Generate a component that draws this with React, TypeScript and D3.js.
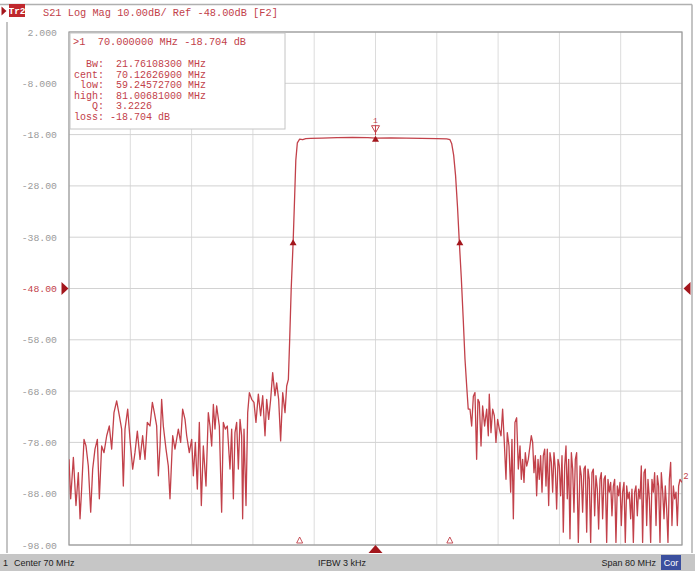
import React from "react";
import * as d3 from "d3";

// ---- data (MHz, dB) ----
const noiseLowMHz = [30.00,30.22,30.57,30.91,31.22,31.44,31.65,31.96,32.22,32.52,32.83,33.09,33.39,33.70,33.96,34.26,34.57,34.92,35.26,35.57,35.87,36.22,36.57,36.87,37.09,37.31,37.66,37.96,38.31,38.61,38.92,39.27,39.61,39.92,40.22,40.57,40.88,41.14,41.44,41.66,41.88,42.09,42.31,42.66,42.96,43.18,43.53,43.83,44.27,44.57,44.83,45.14,45.36,45.70,46.01,46.23,46.49,46.75,47.01,47.27,47.53,47.88,48.18,48.40,48.62,48.84,49.05,49.27,49.62,49.92,50.14,50.40,50.66,51.01,51.23,51.45,51.66,51.88,52.10,52.32,52.53,52.66,52.84,53.10,53.32,53.54,53.84,54.14,54.40,54.71,55.01,55.28,55.58,55.80,56.06,56.32,56.58,56.88,57.10,57.36,57.62,57.89,58.19,58.41,58.63];
const noiseLowDb = [-81.3,-89.0,-80.9,-90.3,-83.9,-92.9,-87.1,-77.4,-78.7,-82.6,-91.6,-83.2,-79.3,-77.4,-89.0,-78.7,-80.0,-76.7,-74.8,-79.3,-72.2,-69.9,-72.8,-75.4,-86.5,-75.4,-71.5,-77.4,-83.2,-80.0,-75.8,-81.3,-76.7,-81.3,-74.1,-74.8,-70.2,-72.2,-74.8,-84.5,-78.7,-69.6,-74.8,-79.3,-82.6,-89.0,-76.7,-79.3,-75.4,-78.0,-71.5,-73.5,-76.7,-80.0,-77.4,-84.5,-78.0,-87.1,-74.1,-90.3,-78.7,-86.5,-72.2,-74.8,-78.7,-70.6,-75.4,-70.9,-74.8,-91.6,-74.1,-75.4,-74.8,-83.2,-75.4,-89.0,-76.1,-74.1,-83.2,-73.5,-76.7,-92.9,-75.4,-90.3,-72.2,-68.3,-69.6,-70.2,-74.1,-68.6,-72.8,-68.9,-76.7,-69.6,-73.5,-69.6,-64.4,-68.9,-66.4,-69.6,-77.7,-68.3,-72.2,-67.0,-65.7];

const passbandMHz = [58.8,59.0,59.25,59.45,59.6,59.8,60.1,60.5,60.9,61.5,63,65,67,69,70,72,74,76,78,79.3,79.72,79.95,80.2,80.45,80.7,80.94,81.2,81.45,81.68,81.9,82.1];
const passbandDb = [-58,-48,-39,-30,-23,-19.6,-18.9,-19.0,-18.8,-18.75,-18.7,-18.6,-18.55,-18.6,-18.7,-18.65,-18.7,-18.75,-18.8,-18.85,-19.0,-19.8,-22,-26,-32,-39,-46,-54,-61.8,-67,-71.5];

const noiseHighMHz = [82.33,82.55,82.77,82.98,83.20,83.37,83.55,83.77,83.98,84.24,84.51,84.72,84.85,85.07,85.29,85.51,85.72,85.94,86.16,86.38,86.59,86.81,87.03,87.20,87.42,87.64,87.81,87.99,88.20,88.42,88.64,88.86,89.03,89.20,89.38,89.55,89.73,89.94,90.16,90.33,90.51,90.68,90.86,91.03,91.21,91.38,91.55,91.73,91.90,92.08,92.25,92.42,92.60,92.77,92.95,93.12,93.29,93.47,93.64,93.82,93.99,94.16,94.34,94.51,94.69,94.86,95.03,95.21,95.38,95.56,95.73,95.90,96.08,96.25,96.47,96.69,96.86,97.03,97.21,97.38,97.56,97.73,97.90,98.08,98.25,98.43,98.60,98.77,98.95,99.12,99.30,99.47,99.64,99.82,99.99,100.17,100.34,100.51,100.69,100.86,101.04,101.21,101.38,101.56,101.73,101.91,102.08,102.25,102.43,102.60,102.78,102.95,103.12,103.30,103.47,103.65,103.82,103.99,104.17,104.34,104.52,104.69,104.86,105.04,105.21,105.39,105.56,105.74,105.91,106.08,106.26,106.43,106.61,106.78,106.95,107.13,107.30,107.48,107.65,107.82,108.00,108.17,108.35,108.52,108.69,108.87,109.04,109.22,109.39,109.56,109.74,110.00];
const noiseHighDb = [-71.5,-74.8,-69.0,-68.3,-81.3,-69.6,-70.2,-78.7,-70.9,-74.8,-71.5,-76.7,-68.6,-76.1,-71.5,-72.8,-78.0,-73.5,-75.4,-76.7,-71.5,-78.0,-85.2,-76.1,-78.7,-87.7,-77.4,-92.9,-74.1,-73.2,-83.2,-78.7,-85.2,-81.3,-85.8,-80.0,-82.6,-81.3,-78.7,-76.7,-78.0,-83.9,-80.6,-88.4,-81.3,-85.2,-80.6,-87.7,-80.6,-79.3,-86.5,-79.3,-90.3,-80.0,-81.9,-87.7,-80.0,-83.2,-91.0,-81.3,-82.6,-88.4,-80.6,-95.5,-82.6,-78.7,-89.0,-81.3,-96.8,-80.0,-83.2,-91.6,-81.3,-80.0,-97.5,-82.6,-84.5,-91.6,-83.2,-82.6,-95.5,-83.2,-85.2,-97.5,-83.9,-83.2,-92.3,-84.5,-87.1,-94.9,-85.2,-83.9,-92.9,-85.2,-84.5,-97.5,-85.2,-87.7,-85.8,-92.3,-86.5,-85.2,-97.5,-86.5,-88.4,-85.8,-94.2,-87.7,-85.8,-97.5,-86.5,-89.0,-87.7,-92.9,-87.1,-97.5,-87.7,-86.5,-92.3,-87.1,-89.0,-82.6,-97.5,-83.9,-83.2,-94.2,-85.2,-89.0,-97.5,-85.2,-87.7,-83.9,-94.2,-84.5,-86.5,-97.5,-83.9,-87.7,-92.9,-86.5,-91.0,-97.5,-85.2,-81.9,-94.2,-86.5,-89.0,-87.7,-94.2,-86.5,-85.2,-85.8];

const yTickValues = [2, -8, -18, -28, -38, -48, -58, -68, -78, -88, -98];
const yTickLabels = ["2.000", "-8.000", "-18.00", "-28.00", "-38.00", "-48.00", "-58.00", "-68.00", "-78.00", "-88.00", "-98.00"];
const xGridMHz = [30, 38, 46, 54, 62, 70, 78, 86, 94, 102, 110];
const refLevelDb = -48;

const markerMHz = 70.0;
const markerDb = -18.704;
const bwMarkerMHz = [59.24572700, 81.00681000];
const bwMarkerDb = [-39, -39];
const stimMarkerMHz = [60.1, 79.7];

const headerText = "S21 Log Mag 10.00dB/ Ref -48.00dB [F2]";
const markerLine = ">1  70.000000 MHz -18.704 dB";
const statLabels = ["Bw:", "cent:", "low:", "high:", "Q:", "loss:"];
const statValues = [" 21.76108300 MHz", " 70.12626900 MHz", " 59.24572700 MHz", " 81.00681000 MHz", " 3.2226", "-18.704 dB"];

const RED = "#c2414a";
const DARK = "#a3161c";
const MONO = "'Liberation Mono', 'DejaVu Sans Mono', monospace";
const SANS = "'Liberation Sans', Arial, sans-serif";

export default function App() {
  const x = d3.scaleLinear().domain([30, 110]).range([69, 682]);
  const y = d3.scaleLinear().domain([-98, 2]).range([545, 32]);
  const [x0, x1] = x.range();
  const [yb, yt] = y.range();

  const pts: [number, number][] = [];
  noiseLowMHz.forEach((f, i) => pts.push([f, noiseLowDb[i]]));
  passbandMHz.forEach((f, i) => pts.push([f, passbandDb[i]]));
  noiseHighMHz.forEach((f, i) => pts.push([f, noiseHighDb[i]]));
  const line = d3.line<[number, number]>().x(d => x(d[0])).y(d => y(d[1]));

  const tri = (cx: number, cy: number, w: number, h: number, dir: "up" | "down" | "left" | "right") => {
    if (dir === "up") return `M${cx - w / 2},${cy + h / 2}L${cx + w / 2},${cy + h / 2}L${cx},${cy - h / 2}Z`;
    if (dir === "down") return `M${cx - w / 2},${cy - h / 2}L${cx + w / 2},${cy - h / 2}L${cx},${cy + h / 2}Z`;
    if (dir === "left") return `M${cx + w / 2},${cy - h / 2}L${cx + w / 2},${cy + h / 2}L${cx - w / 2},${cy}Z`;
    return `M${cx - w / 2},${cy - h / 2}L${cx - w / 2},${cy + h / 2}L${cx + w / 2},${cy}Z`;
  };

  const mx = x(markerMHz);
  const my = y(markerDb);

  return (
    <svg width={695} height={571} style={{ position: "absolute", left: 0, top: 0, background: "#fff" }}>
      <rect x={0} y={0} width={695} height={571} fill="#fff" />
      {/* outer frame */}
      <line x1={0} y1={4.5} x2={692} y2={4.5} stroke="#b0b0b0" strokeWidth={1.5} />
      <line x1={692} y1={4.5} x2={692} y2={553} stroke="#b0b0b0" strokeWidth={1.5} />
      <line x1={7} y1={22} x2={7} y2={553} stroke="#b0b0b0" strokeWidth={1.5} />

      {/* header */}
      <path d={tri(4, 11, 5, 9, "right")} fill={DARK} />
      <rect x={9} y={4} width={16} height={13} fill="#c0282d" />
      <text x={17} y={14} textAnchor="middle" fontFamily={MONO} fontSize={9.5} fill="#fff" fontWeight="bold">Tr2</text>
      <text x={43} y={16} fontFamily={MONO} fontSize={10.3} fill={RED}>{headerText}</text>

      {/* grid */}
      {xGridMHz.map(f => (
        <line key={"v" + f} x1={x(f)} x2={x(f)} y1={yt} y2={yb} stroke="#dcdcdc" strokeWidth={1} />
      ))}
      {yTickValues.map(v => (
        <line key={"h" + v} x1={x0} x2={x1} y1={y(v)} y2={y(v)} stroke="#d2d2d2" strokeWidth={1} />
      ))}
      <rect x={x0} y={yt} width={x1 - x0} height={yb - yt} fill="none" stroke="#9a9a9a" strokeWidth={1.2} />

      {/* y labels */}
      {yTickValues.map((v, i) => (
        <text key={"t" + v} x={57} y={y(v) + 3.5} textAnchor="end" fontFamily={MONO} fontSize={9.8}
          fill={v === refLevelDb ? RED : "#9a9a9a"}>{yTickLabels[i]}</text>
      ))}
      <path d={tri(65, y(refLevelDb), 7, 13, "right")} fill={DARK} />
      <path d={tri(687, y(refLevelDb), 7, 13, "left")} fill={DARK} />

      {/* marker readout box */}
      <rect x={70} y={33} width={215} height={96} fill="#fff" stroke="#c4c4c4" strokeWidth={1} />
      <text x={73} y={45} fontFamily={MONO} fontSize={10.3} fill={RED} style={{ whiteSpace: "pre" }}>{markerLine}</text>
      {statLabels.map((l, i) => (
        <g key={l}>
          <text x={104} y={67 + i * 10.5} textAnchor="end" fontFamily={MONO} fontSize={10} fill={RED}>{l}</text>
          <text x={110} y={67 + i * 10.5} fontFamily={MONO} fontSize={10} fill={RED} style={{ whiteSpace: "pre" }}>{statValues[i]}</text>
        </g>
      ))}

      {/* trace */}
      <defs>
        <clipPath id="plotclip">
          <rect x={x0} y={yt} width={x1 - x0} height={yb - yt} />
        </clipPath>
      </defs>
      <path d={line(pts) || ""} fill="none" stroke={RED} strokeWidth={1.3} strokeLinejoin="round" clipPath="url(#plotclip)" />

      {/* markers */}
      {bwMarkerMHz.map((f, i) => (
        <path key={"bw" + i} d={tri(x(f), y(bwMarkerDb[i]), 7, 6, "up")} fill={DARK} />
      ))}
      <path d={tri(mx, my + 0.5, 7, 6, "up")} fill={DARK} />
      <path d={tri(mx, my - 9, 8, 7, "down")} fill="#fff" stroke={RED} strokeWidth={1} />
      <line x1={mx} x2={mx} y1={my - 13} y2={my - 3} stroke={RED} strokeWidth={1} />
      <text x={mx} y={my - 15} textAnchor="middle" fontFamily={MONO} fontSize={8} fill={RED}>1</text>
      <text x={686} y={y(-84.6) + 3} textAnchor="middle" fontFamily={MONO} fontSize={9} fill={RED}>2</text>

      {/* stimulus markers at bottom */}
      {stimMarkerMHz.map((f, i) => (
        <path key={"st" + i} d={tri(x(f), yb - 5, 6, 6, "up")} fill="#fff" stroke={RED} strokeWidth={0.9} />
      ))}
      <path d={tri(x(markerMHz), yb + 4, 14, 8, "up")} fill={DARK} />

      {/* status bar */}
      <rect x={0} y={554} width={695} height={17} fill="#c6c6c6" />
      <text x={3} y={566} fontFamily={SANS} fontSize={9} fill="#222">1</text>
      <text x={14} y={566} fontFamily={SANS} fontSize={9} fill="#222">Center 70 MHz</text>
      <text x={342} y={566} textAnchor="middle" fontFamily={SANS} fontSize={9} fill="#222">IFBW 3 kHz</text>
      <text x={656} y={566} textAnchor="end" fontFamily={SANS} fontSize={9} fill="#222">Span 80 MHz</text>
      <rect x={661} y={555} width={20} height={15} fill="#3b4f9e" />
      <text x={671} y={566} textAnchor="middle" fontFamily={SANS} fontSize={9} fill="#fff">Cor</text>
    </svg>
  );
}
